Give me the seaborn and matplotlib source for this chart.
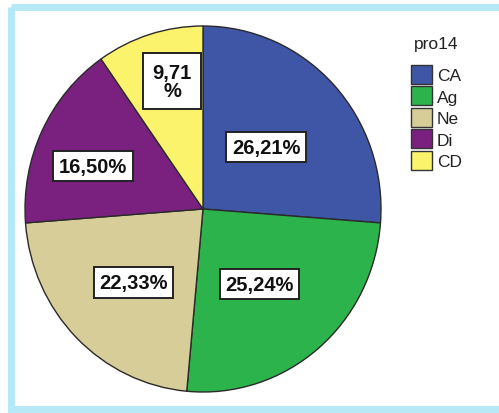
import numpy as np
import matplotlib
matplotlib.use("Agg")
import matplotlib.pyplot as plt
from matplotlib.patches import Rectangle, Patch
import seaborn as sns

sns.set_style("white")
plt.rcParams['font.family'] = ['Liberation Sans', 'DejaVu Sans']

# Category data
categories = ["CA", "Ag", "Ne", "Di", "CD"]
percentages = [26.21, 25.24, 22.33, 16.50, 9.71]
slice_colors = ["#3F55A5", "#2DB34B", "#D6CD98", "#7A2180", "#FBF36C"]
legend_title = "pro14"

# label placement: (radial fraction, angular offset in degrees) per slice
label_place = [(0.49, 0.8), (0.52, -2.5), (0.56, 1.2), (0.66, 4.6), (0.72, -3.5)]

def fmt(v):
    return f"{v:.2f}".replace(".", ",") + "%"

fig = plt.figure(figsize=(4.99, 4.14), dpi=100)

# light blue frame around the figure
frame = fig.add_axes([0, 0, 1, 1])
frame.set_xlim(0, 499)
frame.set_ylim(414, 0)
frame.axis("off")
frame.add_patch(Rectangle((11, 8), 520, 402, fill=False,
                          edgecolor="#B6E9F6", linewidth=5))

ax = fig.add_axes([25 / 499, (414 - 210 - 183) / 414, 356 / 499, 366 / 414])
wedges, _ = ax.pie(percentages, colors=slice_colors, startangle=90,
                   counterclock=False,
                   wedgeprops=dict(edgecolor="#2a2a2a", linewidth=1.0))
ax.set_xlim(-1.0, 1.0)
ax.set_ylim(-1.0, 1.0)
ax.set_aspect("auto")

for w, v, (r, off) in zip(wedges, percentages, label_place):
    mid = np.deg2rad((w.theta1 + w.theta2) / 2 + off)
    x, y = r * np.cos(mid), r * np.sin(mid)
    txt = fmt(v)
    pad = 0.28
    if v < 10:
        txt = txt[:-1] + "\n%"
        pad = 0.45
    ax.text(x, y, txt, ha="center", va="center", fontsize=14.5,
            fontweight="bold", color="#111111", linespacing=0.95,
            bbox=dict(boxstyle=f"square,pad={pad}", facecolor="white",
                      edgecolor="#222222", linewidth=1.4))

handles = [Patch(facecolor=c, edgecolor="#333333", linewidth=1.0) for c in slice_colors]
leg = fig.legend(handles, categories, title=legend_title, loc="upper left",
                 bbox_to_anchor=(411 / 499, 1 - 37 / 414), frameon=False,
                 fontsize=12.5, title_fontsize=12.5, handlelength=1.2,
                 handleheight=1.3, handletextpad=0.3, labelspacing=0.15,
                 borderaxespad=0, borderpad=0)
leg._legend_box.sep = 10
for t in leg.get_texts():
    t.set_color("#222222")
leg.get_title().set_color("#222222")

fig.savefig("out.png", dpi=100)
